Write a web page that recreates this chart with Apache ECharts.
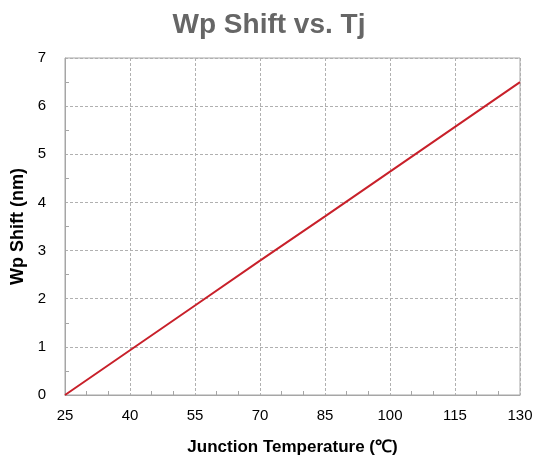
<!DOCTYPE html>
<html>
<head>
<meta charset="utf-8">
<script src="https://cdn.jsdelivr.net/npm/echarts@6/dist/echarts.min.js"></script>
<style>
  html, body { margin: 0; padding: 0; background: #fff; }
  #chart { width: 538px; height: 461px; }
</style>
</head>
<body>
<div id="chart"></div>
<script>
  // junction temperature (°C) and wavelength peak shift (nm)
  const tempC = [25, 40, 55, 70, 85, 100, 115, 130];
  const wpShift = [0, 0.93, 1.86, 2.79, 3.71, 4.64, 5.57, 6.5];

  const font = '"Liberation Sans", Arial, sans-serif';
  const chart = echarts.init(document.getElementById('chart'));

  chart.setOption({
    animation: false,
    title: {
      text: 'Wp Shift vs. Tj',
      left: 'center',
      top: 6,
      textStyle: { fontFamily: font, fontSize: 28, fontWeight: 'bold', color: '#666' },
    },
    grid: {
      show: true,
      left: 65,
      right: 18,
      top: 58,
      bottom: 64,
      borderColor: '#a6a6a6',
      borderWidth: 1,
    },
    xAxis: {
      type: 'value',
      min: 25,
      max: 130,
      interval: 15,
      name: 'Junction Temperature (℃)',
      nameLocation: 'middle',
      nameGap: 44,
      nameTextStyle: { fontFamily: font, fontSize: 17, fontWeight: 'bold', color: '#000' },
      axisLine: { lineStyle: { color: '#a6a6a6' } },
      axisTick: { show: false, inside: true },
      minorTick: { show: true, splitNumber: 3, length: 4, lineStyle: { color: '#a6a6a6' } },
      axisLabel: { fontFamily: font, fontSize: 15, color: '#000', margin: 13 },
      splitLine: { lineStyle: { color: '#b0b0b0', type: [3, 2] } },
    },
    yAxis: {
      type: 'value',
      min: 0,
      max: 7,
      interval: 1,
      name: 'Wp Shift (nm)',
      nameLocation: 'middle',
      nameGap: 36,
      nameTextStyle: { fontFamily: font, fontSize: 18, fontWeight: 'bold', color: '#000' },
      axisLine: { show: true, lineStyle: { color: '#a6a6a6' } },
      axisTick: { show: false, inside: true },
      minorTick: { show: true, splitNumber: 2, length: 4, lineStyle: { color: '#a6a6a6' } },
      axisLabel: { fontFamily: font, fontSize: 15, color: '#000', margin: 19 },
      splitLine: { lineStyle: { color: '#b0b0b0', type: [3, 2] } },
    },
    series: [
      {
        type: 'line',
        data: tempC.map((t, i) => [t, wpShift[i]]),
        showSymbol: false,
        lineStyle: { color: '#c8202a', width: 2 },
      },
    ],
  });
</script>
</body>
</html>
